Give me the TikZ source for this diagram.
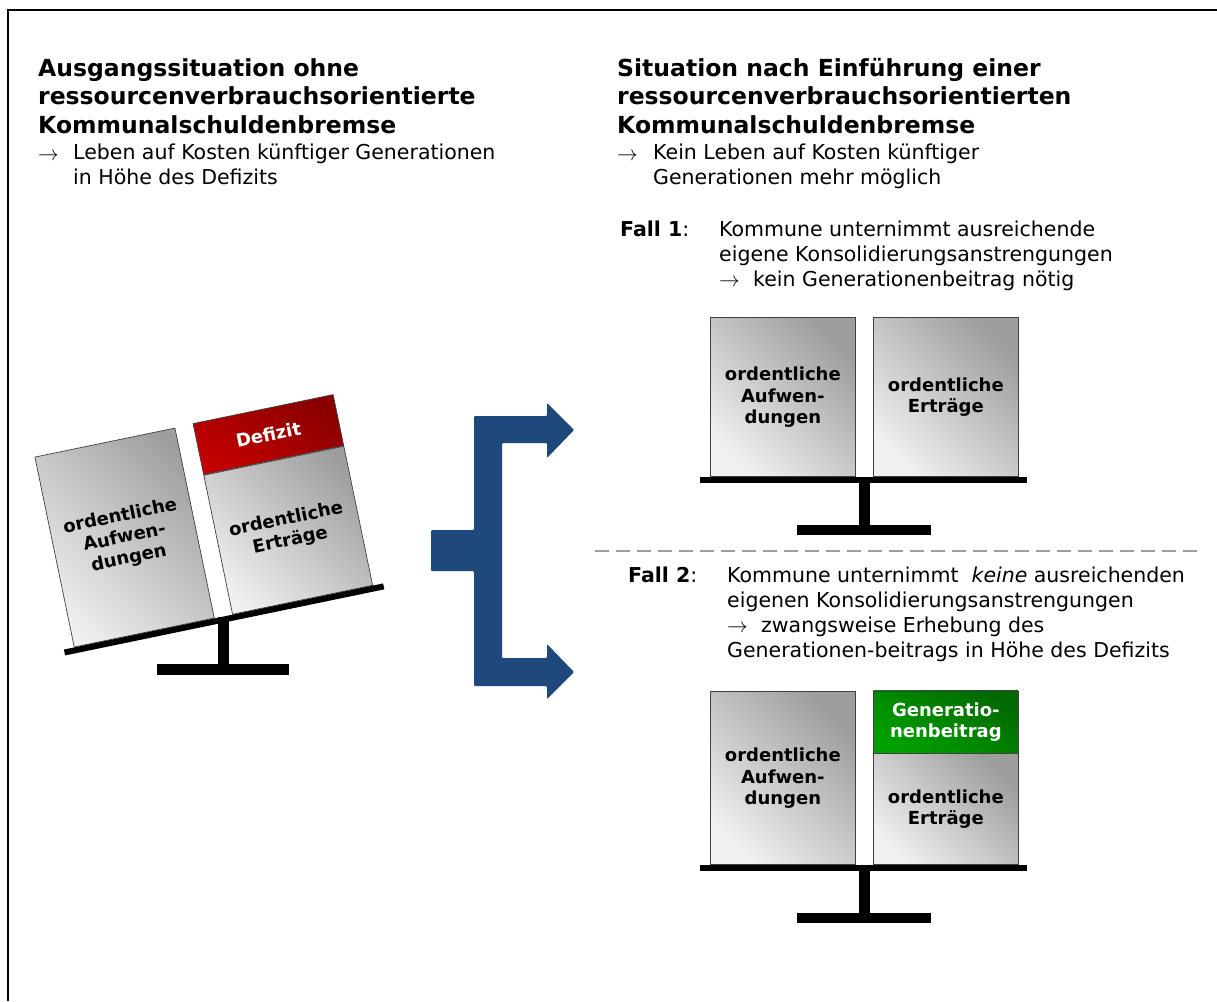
\documentclass[tikz,border=0pt]{standalone}
\usepackage{fontspec}
\setmainfont{DejaVu Sans}
\definecolor{arrowblue}{HTML}{1F497D}
\definecolor{defred}{HTML}{C40000}
\definecolor{defreddark}{HTML}{880000}
\definecolor{beitraggreen}{HTML}{00A000}
\definecolor{beitraggreendark}{HTML}{006A00}
\newcommand{\pfeilbox}{\makebox[34pt][l]{$\rightarrow$}}

\begin{document}
\begin{tikzpicture}[x=1pt, y=-1pt,
    head/.style={anchor=north west, inner sep=0pt, align=left, font=\fontsize{23.5}{28.5}\selectfont\bfseries},
    txt/.style={anchor=north west, inner sep=0pt, align=left, font=\fontsize{20.5}{25}\selectfont},
    pfeil/.style={anchor=base west, inner sep=0pt, font=\fontsize{20.5}{25}\selectfont},
    konto/.style={draw=black!75, line width=0.7pt, top color=black!38, bottom color=black!6, shading angle=-45, minimum width=145pt, inner sep=0pt, align=center, font=\fontsize{18}{21.5}\selectfont\bfseries},
    defizit/.style={konto, top color=defreddark, bottom color=defred, shading angle=-30, text=white},
    beitrag/.style={konto, top color=beitraggreendark, bottom color=beitraggreen, shading angle=-30, text=white}
]
\useasboundingbox (0,0) rectangle (1217,1001);
\draw[line width=1.5pt] (8,1001) -- (8,10) -- (1217,10);

% Ueberschriften
\node[head] (titel0) at (38,58) {Ausgangssituation ohne\\ressourcenverbrauchsorientierte\\Kommunalschuldenbremse};
\node[pfeil] (pfeil0) at (38,160) {$\rightarrow$};
\node[txt] (text0) at (73,144) {Leben auf Kosten künftiger Generationen\\in Höhe des Defizits};

\node[head] (titel1) at (617,58) {Situation nach Einführung einer\\ressourcenverbrauchsorientierten\\Kommunalschuldenbremse};
\node[pfeil] (pfeil1) at (617,160) {$\rightarrow$};
\node[txt] (text1) at (653,144) {Kein Leben auf Kosten künftiger\\Generationen mehr möglich};

% Fall 1
\node[txt] (fall1) at (620,221) {\textbf{Fall 1}:};
\node[txt] (fall1txt) at (719,221) {Kommune unternimmt ausreichende\\eigene Konsolidierungsanstrengungen\\\pfeilbox kein Generationenbeitrag nötig};

% Fall 2
\node[txt] (fall2) at (628,567) {\textbf{Fall 2}:};
\node[txt] (fall2txt) at (727,567) {Kommune unternimmt\ \ \textit{keine} ausreichenden\\eigenen Konsolidierungsanstrengungen\\\pfeilbox zwangsweise Erhebung des\\Generationen-beitrags in Höhe des Defizits};

\draw[gray!75, line width=2pt, dash pattern=on 14pt off 7pt] (595,551) -- (1200,551);

% Ausgangswaage (gekippt)
\begin{scope}[shift={(223.5,616.5)}, rotate=11.7, transform shape]
\node[konto, minimum width=143pt, minimum height=194pt, anchor=south east] (aufw0) at (-9,0) {ordentliche\\Aufwen-\\dungen};
\node[konto, minimum width=143pt, minimum height=142pt, anchor=south west] (ertr0) at (9,0) {ordentliche\\Erträge};
\node[defizit, minimum width=143pt, minimum height=52pt, anchor=south] (def0) at (ertr0.north) {Defizit};
\fill (-163,0) rectangle (163,6);
\end{scope}
\fill (218,617) rectangle (229,665);
\fill (157,664) rectangle (289,675);

% Pfeil
\fill[arrowblue, rounded corners=1pt] (431,530) -- (474,530) -- (474,416) -- (547,416) -- (547,403)
  -- (574,430) -- (547,458) -- (547,443) -- (502,443) -- (502,658) -- (547,658) -- (547,644)
  -- (574,672) -- (547,699) -- (547,686) -- (474,686) -- (474,571) -- (431,571) -- cycle;

% Waage Fall 1
\node[konto, minimum height=159pt, anchor=south west] (aufw1) at (710,477) {ordentliche\\Aufwen-\\dungen};
\node[konto, minimum height=159pt, anchor=south west] (ertr1) at (873,477) {ordentliche\\Erträge};
\fill (700,477) rectangle (1027,483);
\fill (859,483) rectangle (870,526);
\fill (797,525) rectangle (931,535);

% Waage Fall 2
\node[konto, minimum height=173pt, anchor=south west] (aufw2) at (710,865) {ordentliche\\Aufwen-\\dungen};
\node[konto, minimum height=111pt, anchor=south west] (ertr2) at (873,865) {ordentliche\\Erträge};
\node[beitrag, minimum height=62pt, anchor=south] (gen2) at (ertr2.north) {Generatio-\\nenbeitrag};
\fill (700,865) rectangle (1027,871);
\fill (859,871) rectangle (870,914);
\fill (797,913) rectangle (931,923);
\end{tikzpicture}
\end{document}
